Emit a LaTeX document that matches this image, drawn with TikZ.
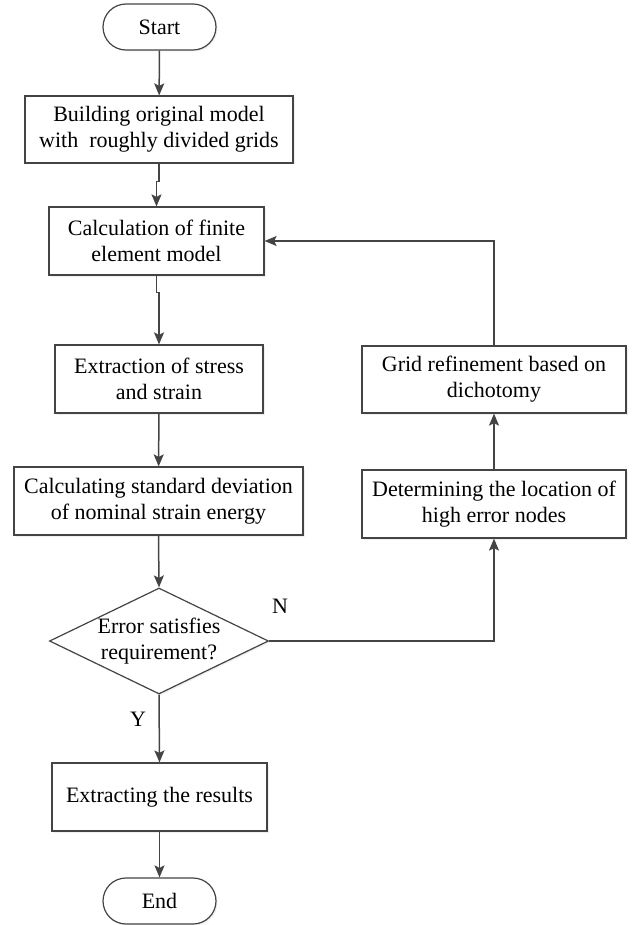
\documentclass[tikz,border=0pt]{standalone}
\usepackage{fontspec}
\setmainfont{Liberation Serif}
\usetikzlibrary{shapes.geometric,shapes.misc,arrows.meta,shadows}
\definecolor{linegray}{HTML}{444444}
\begin{document}
\begin{tikzpicture}[x=1pt,y=1pt,
  font=\fontsize{22}{26}\selectfont,
  base/.style={draw=linegray, line width=1.2pt, fill=white, align=center, inner sep=0pt,
     drop shadow={shadow xshift=1.5pt, shadow yshift=-1.5pt, fill=black!12}},
  procbox/.style={base, rectangle},
  termbox/.style={base, rounded rectangle, minimum width=113pt, minimum height=46pt},
  decbox/.style={base, diamond, aspect=2.066, minimum width=219pt, minimum height=106pt},
  conn/.style={draw=linegray, line width=1.5pt, -{Stealth[length=12pt,width=10pt,inset=2.5pt]}},
  lbl/.style={inner sep=0pt}
]
\useasboundingbox (0,0) rectangle (639,-925);

\node[termbox] (start) at (159.5,-27) {Start};
\node[procbox, minimum width=268pt, minimum height=67pt] (b1) at (159,-129.5)
  {Building original model\\with\ \ roughly divided grids};
\node[procbox, minimum width=215pt, minimum height=68pt] (b2) at (156.5,-241)
  {Calculation of finite\\element model};
\node[procbox, minimum width=208pt, minimum height=68pt] (b3) at (159,-379)
  {Extraction of stress\\and strain};
\node[procbox, minimum width=289pt, minimum height=68pt] (b4) at (158.5,-501)
  {Calculating standard deviation\\of nominal strain energy};
\node[decbox] (dia) at (159,-641) {};
\node[lbl, align=center] (diatext) at (dia.center) {Error satisfies\\requirement?};
\node[procbox, minimum width=215pt, minimum height=68pt] (b5) at (159.5,-797)
  {Extracting the results};
\node[termbox] (end) at (159.5,-901) {End};

\node[procbox, minimum width=264pt, minimum height=67pt] (r1) at (494,-379.5)
  {Grid refinement based on\\dichotomy};
\node[procbox, minimum width=264pt, minimum height=68pt] (r2) at (494,-504)
  {Determining the location of\\high error nodes};

\node[lbl] (nlab) at (280,-606) {N};
\node[lbl] (ylab) at (138,-719) {Y};

\draw[conn] (start) -- (b1);
\draw[conn] (b1.south) -- ++(0,-18) -| (b2.north);
\draw[conn] (b2.south) -- ++(0,-17) -| (b3.north);
\draw[conn] (b3) -- (b4);
\draw[conn] (b4.south) -- (dia.north);
\draw[conn] (dia.south) -- (b5.north);
\draw[conn] (b5) -- (end);
\draw[conn] (dia.east) -| (r2.south);
\draw[conn] (r2) -- (r1);
\draw[conn] (r1.north) |- (b2.east);
\end{tikzpicture}
\end{document}
